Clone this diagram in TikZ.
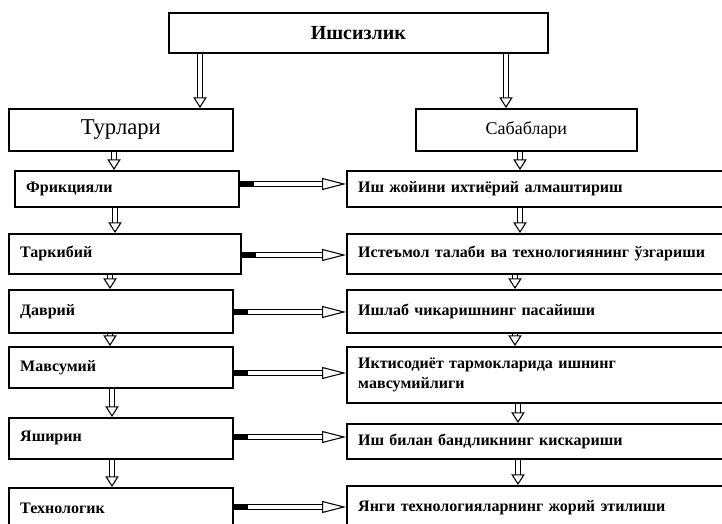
\documentclass[tikz,border=0pt]{standalone}
\usepackage{fontspec}
\setmainfont{Liberation Serif}
\usetikzlibrary{arrows.meta}
\begin{document}
\begin{tikzpicture}[x=0.75pt,y=-0.75pt]
\tikzset{
  box/.style={draw, line width=1.3pt, anchor=north west, inner ysep=0pt,
    font=\bfseries\fontsize{12}{14.5}\selectfont},
  lbox/.style={box, inner xsep=8.5pt, align=left},
  hbox/.style={box, inner xsep=0pt, align=center},
  varrow/.style={double, double distance=2.4pt, line width=0.8pt,
    -{Triangle[open, length=8pt, width=10pt]}},
  harrow/.style={double, double distance=2.4pt, line width=0.8pt,
    {Rectangle[length=11pt, width=4pt]}-{Triangle[open, length=18pt, width=9pt]}}
}
\useasboundingbox (0,0) rectangle (722,524);
\clip (0,0) rectangle (722,524);

% headings
\node[hbox, minimum width=284.25pt, minimum height=30pt,
  font=\bfseries\fontsize{15}{17}\selectfont] (top) at (168,12) {Ишсизлик};
\node[hbox, minimum width=168pt, minimum height=31.5pt,
  font=\fontsize{17}{20}\selectfont] (tur) at (8,108) {Турлари};
\node[hbox, minimum width=165.75pt, minimum height=31.5pt,
  font=\fontsize{13.5}{16}\selectfont] (sab) at (415,108) {Сабаблари};

% kinds
\node[lbox, text width=151pt, minimum height=27pt]    (l1) at (14,170) {Фрикцияли};
\node[lbox, text width=157pt, minimum height=30pt]    (l2) at (8,233)  {Таркибий};
\node[lbox, text width=151pt, minimum height=32.25pt] (l3) at (8,289)  {Даврий};
\node[lbox, text width=151pt, minimum height=30.75pt] (l4) at (8,346)  {Мавсумий};
\node[lbox, text width=151pt, minimum height=30.75pt] (l5) at (8,417)  {Яширин};
\node[lbox, text width=151pt, minimum height=30pt]    (l6) at (8,487)  {Технологик};

% causes
\node[lbox, text width=275.5pt, minimum height=27pt]    (r1) at (346,170) {Иш жойини ихтиёрий алмаштириш};
\node[lbox, text width=275.5pt, minimum height=30pt]    (r2) at (346,233) {Истеъмол талаби ва технологиянинг ўзгариши};
\node[lbox, text width=275.5pt, minimum height=32.25pt] (r3) at (346,289) {Ишлаб чикаришнинг пасайиши};
\node[lbox, text width=275.5pt, minimum height=42pt]    (r4) at (346,346) {Иктисодиёт тармокларида ишнинг\\мавсумийлиги};
\node[lbox, text width=275.5pt, minimum height=26.25pt] (r5) at (346,423) {Иш билан бандликнинг кискариши};
\node[lbox, text width=275.5pt, minimum height=33pt]    (r6) at (346,485) {Янги технологияларнинг жорий этилиши};

% vertical links
\draw[varrow] (top.south -| 200,0) -- (tur.north -| 200,0);
\draw[varrow] (top.south -| 506,0) -- (sab.north -| 506,0);
\draw[varrow] (tur.south -| 114,0) -- (l1.north -| 114,0);
\draw[varrow] (l1.south -| 115,0) -- (l2.north -| 115,0);
\draw[varrow] (l2.south -| 110,0) -- (l3.north -| 110,0);
\draw[varrow] (l3.south -| 110,0) -- (l4.north -| 110,0);
\draw[varrow] (l4.south -| 112,0) -- (l5.north -| 112,0);
\draw[varrow] (l5.south -| 112,0) -- (l6.north -| 112,0);
\draw[varrow] (sab.south -| 520,0) -- (r1.north -| 520,0);
\draw[varrow] (r1.south -| 520,0) -- (r2.north -| 520,0);
\draw[varrow] (r2.south -| 515,0) -- (r3.north -| 515,0);
\draw[varrow] (r3.south -| 515,0) -- (r4.north -| 515,0);
\draw[varrow] (r4.south -| 518,0) -- (r5.north -| 518,0);
\draw[varrow] (r5.south -| 518,0) -- (r6.north -| 518,0);

% horizontal links
\draw[harrow] (l1.east |- 0,184) -- (r1.west |- 0,184);
\draw[harrow] (l2.east |- 0,255) -- (r2.west |- 0,255);
\draw[harrow] (l3.east |- 0,312) -- (r3.west |- 0,312);
\draw[harrow] (l4.east |- 0,373) -- (r4.west |- 0,373);
\draw[harrow] (l5.east |- 0,437) -- (r5.west |- 0,437);
\draw[harrow] (l6.east |- 0,507) -- (r6.west |- 0,507);
\end{tikzpicture}
\end{document}
